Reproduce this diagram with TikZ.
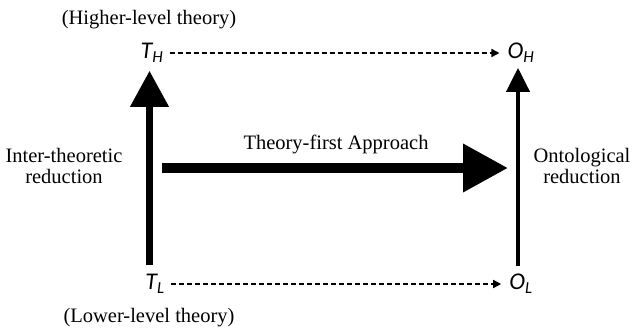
\documentclass[tikz,border=0pt]{standalone}
\usepackage{fontspec}
\setmainfont{Liberation Serif}
\newfontfamily\symfont{Carlito}
\usetikzlibrary{arrows.meta}
\tikzset{
  sym/.style={font=\symfont\itshape\fontsize{24}{26}\selectfont, inner sep=0pt},
  lbl/.style={font=\fontsize{20.5}{21.5}\selectfont, align=center, inner sep=0pt},
  dasharrow/.style={dash pattern=on 5pt off 3pt, line width=1.6pt, -{Triangle[length=8pt,width=8pt]}},
  bigarrow/.style={line width=7pt, -{Triangle[length=36pt,width=37pt]}},
  thinarrow/.style={line width=4pt, -{Triangle[length=24pt,width=23pt]}},
  fatarrow/.style={line width=10pt, -{Triangle[length=45pt,width=46pt]}}
}
\begin{document}
\begin{tikzpicture}[x=1pt,y=-1pt]
\useasboundingbox (0,0) rectangle (644,332);
\node[sym] (TH) at (152,53) {T\textsubscript{H}};
\node[sym] (OH) at (521,53) {O\textsubscript{H}};
\node[sym] (TL) at (155,284) {T\textsubscript{L}};
\node[sym] (OL) at (521,284) {O\textsubscript{L}};
\node[lbl] (higher) at (149,20) {(Higher-level theory)};
\node[lbl] (lower) at (149,318) {(Lower-level theory)};
\node[lbl] (inter) at (64,166) {Inter-theoretic\\reduction};
\node[lbl] (onto) at (582,166) {Ontological\\reduction};
\node[lbl] (approach) at (336,144) {Theory-first Approach};
\coordinate (start) at (162,168);
\coordinate (tip) at (508,168);
% level relations
\draw[dasharrow, shorten <=6pt, shorten >=8pt] (TH.east) -- (OH.west);
\draw[dasharrow, shorten <=6pt, shorten >=8pt] (TL.east) -- (OL.west);
% reductions
\draw[bigarrow, shorten <=9pt, shorten >=8pt] ([xshift=-2.5pt]TH.south |- TL.north) -- ([xshift=-2.5pt]TH.south);
\draw[thinarrow, shorten <=8pt, shorten >=5pt] ([xshift=-3pt]OH.south |- OL.north) -- ([xshift=-3pt]OH.south);
\draw[fatarrow] (start) -- (tip);
\end{tikzpicture}
\end{document}
